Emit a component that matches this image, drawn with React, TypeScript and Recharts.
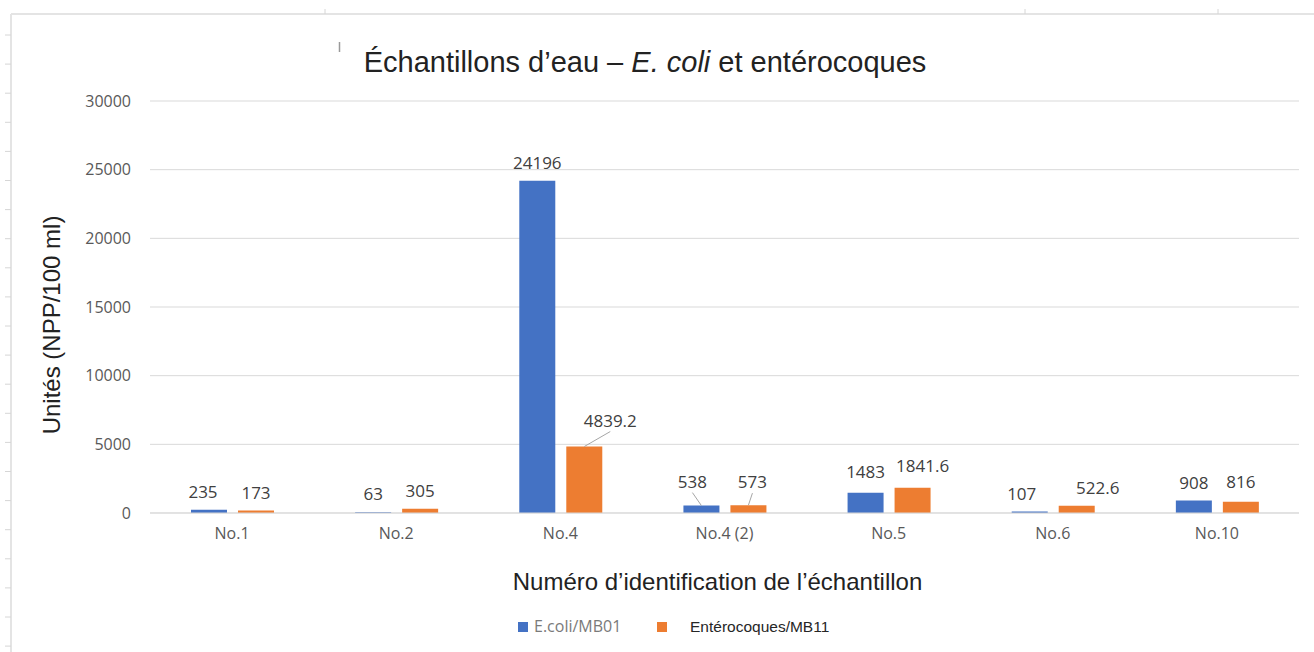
import React from 'react';
import { BarChart, Bar, XAxis, YAxis, CartesianGrid } from 'recharts';

const categories = ['No.1', 'No.2', 'No.4', 'No.4 (2)', 'No.5', 'No.6', 'No.10'];
const ecoliValues = [235, 63, 24196, 538, 1483, 107, 908];
const enteroValues = [173, 305, 4839.2, 573, 1841.6, 522.6, 816];
const yTicks = [0, 5000, 10000, 15000, 20000, 25000, 30000];
const seriesNames = ['E.coli/MB01', 'Entérocoques/MB11'];

// label nudges (style only): [dx, dy, leaderLine]
const ecoliLabelShift: [number, number, boolean][] = [
  [-6, 0, false], [0, 0, false], [0, 0, false], [-9, -6, true], [0, -3, false], [-8, 0, false], [0, 0, false],
];
const enteroLabelShift: [number, number, boolean][] = [
  [0, 0, false], [0, 0, false], [26, -8, true], [4, -5, true], [10, -4, false], [21, 0, false], [0, -2, false],
];

const data = categories.map((c, i) => ({ name: c, ecoli: ecoliValues[i], entero: enteroValues[i] }));

const BLUE = '#4472C4';
const ORANGE = '#ED7D31';
const W = 1314;
const H = 652;

function makeLabel(shifts: [number, number, boolean][], values: number[]) {
  return (props: any) => {
    const { x, y, width, value } = props;
    let index = props.index;
    if (index === undefined || index === null) index = values.indexOf(Number(value));
    const s = shifts[index] || [0, 0, false];
    const cx = Number(x) + Number(width) / 2;
    const top = Number(y);
    const lx = cx + s[0];
    const base = top - 12 + s[1];
    return (
      <g key={`lbl-${index}-${value}`}>
        {s[2] ? (
          <line x1={lx} y1={base + 5} x2={cx} y2={top} stroke="#a6a6a6" strokeWidth={1} />
        ) : null}
        <text
          x={lx}
          y={base}
          textAnchor="middle"
          fontFamily="'Open Sans', sans-serif"
          fontSize={17}
          fill="#404040"
        >
          {value}
        </text>
      </g>
    );
  };
}

const leftTicks: number[] = [];
for (let k = 0; k < 22; k++) leftTicks.push(35 + k * 29.1);
const topTicks = [325, 1025, 1218];

export default function App() {
  return (
    <div style={{ position: 'absolute', left: 0, top: 0, width: W, height: H, background: '#fff' }}>
      <BarChart
        width={W}
        height={H}
        data={data}
        margin={{ top: 101, right: 15, left: 0, bottom: 109 }}
        barGap={11}
        barSize={36}
      >
        <CartesianGrid horizontal vertical={false} stroke="#d9d9d9" strokeWidth={1} />
        <XAxis
          dataKey="name"
          height={30}
          axisLine={{ stroke: '#d9d9d9' }}
          tickLine={false}
          tickMargin={9}
          interval={0}
          tick={{ fontFamily: "'Open Sans', sans-serif", fontSize: 16, fill: '#595959' }}
        />
        <YAxis
          width={150}
          domain={[0, 30000]}
          ticks={yTicks}
          interval={0}
          axisLine={false}
          tickLine={false}
          tickMargin={13}
          tick={{ fontFamily: "'Open Sans', sans-serif", fontSize: 16, fill: '#595959' }}
        />
        <Bar dataKey="ecoli" name={seriesNames[0]} fill={BLUE} isAnimationActive={false}
          label={makeLabel(ecoliLabelShift, ecoliValues)} />
        <Bar dataKey="entero" name={seriesNames[1]} fill={ORANGE} isAnimationActive={false}
          label={makeLabel(enteroLabelShift, enteroValues)} />
      </BarChart>
      <svg
        width={W}
        height={H}
        style={{ position: 'absolute', left: 0, top: 0, pointerEvents: 'none' }}
      >
        {/* faint worksheet frame */}
        <line x1={11} y1={14} x2={11} y2={H} stroke="#e4e4e4" strokeWidth={2} />
        <line x1={11} y1={14} x2={W} y2={14} stroke="#e4e4e4" strokeWidth={2} />
        {leftTicks.map((t) => (
          <line key={`lt${t}`} x1={5} y1={t} x2={11} y2={t} stroke="#d6d6d6" strokeWidth={1} />
        ))}
        {topTicks.map((t) => (
          <line key={`tt${t}`} x1={t} y1={9} x2={t} y2={14} stroke="#d6d6d6" strokeWidth={1} />
        ))}
        <line x1={339.5} y1={42} x2={339.5} y2={52} stroke="#9a9a9a" strokeWidth={1.5} />
        {/* title */}
        <text
          x={645}
          y={72}
          textAnchor="middle"
          fontFamily="'Liberation Sans', Arial, sans-serif"
          fontSize={29}
          fill="#222"
        >
          <tspan>Échantillons d’eau – </tspan>
          <tspan fontStyle="italic">E. coli</tspan>
          <tspan> et entérocoques</tspan>
        </text>
        {/* axis titles */}
        <text
          transform="translate(60,325) rotate(-90)"
          textAnchor="middle"
          fontFamily="'Liberation Sans', Arial, sans-serif"
          fontSize={24}
          fill="#222"
        >
          Unités (NPP/100 ml)
        </text>
        <text
          x={717.5}
          y={590}
          textAnchor="middle"
          fontFamily="'Liberation Sans', Arial, sans-serif"
          fontSize={24}
          fill="#222"
        >
          Numéro d’identification de l’échantillon
        </text>
        {/* legend */}
        <rect x={518} y={622} width={10} height={10} fill={BLUE} />
        <text x={534} y={632} fontFamily="'Open Sans', sans-serif" fontSize={16} fill="#7a7a7a">
          {seriesNames[0]}
        </text>
        <rect x={657} y={622} width={10} height={10} fill={ORANGE} />
        <text x={690} y={632} fontFamily="'Liberation Sans', Arial, sans-serif" fontSize={15.5} fill="#262626">
          {seriesNames[1]}
        </text>
      </svg>
    </div>
  );
}
